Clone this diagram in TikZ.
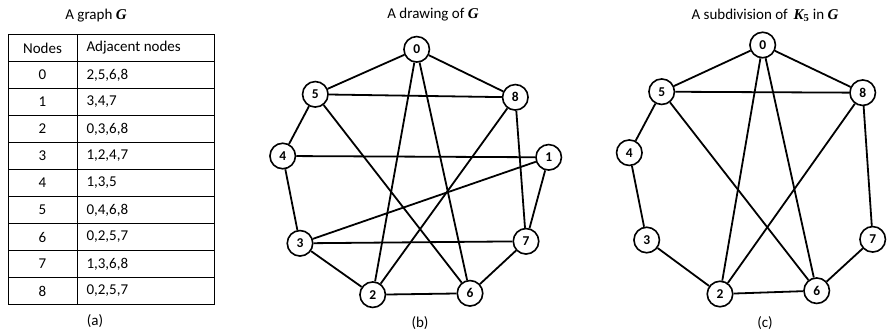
\documentclass[tikz,border=0pt]{standalone}
\usepackage{fontspec}
\setmainfont{Carlito}
\newfontfamily\mathserif{Liberation Serif}
\usetikzlibrary{positioning, calc}

\newcommand{\gvar}[1]{{\mathserif\bfseries\itshape #1}}

\begin{document}
\begin{tikzpicture}[
    x=1pt, y=-1pt,
    vertex/.style={circle, draw, line width=1.6pt, fill=white, inner sep=0pt, minimum size=25.5pt, font=\bfseries\fontsize{13.5}{13.5}\selectfont},
    edge/.style={draw, line width=1.8pt},
    caption/.style={font=\fontsize{15}{17}\selectfont},
    cell/.style={font=\fontsize{15}{17}\selectfont}
]
    \useasboundingbox (0,0) rectangle (889,335);

    % (a) the table
    \node [caption] (ta) at (96,16) {A graph \gvar{G}};
    \draw [line width=1pt] (8,34.5) rectangle (214,304.5);
    \draw [line width=1pt] (77,34.5) -- (77,304.5);
    \foreach \i in {1,...,9}
        \draw [line width=1pt] (8,34.5+27*\i) -- (214,34.5+27*\i);
    \node [cell] at (42.5,48) {Nodes};
    \node [cell, anchor=west] at (83,48) {Adjacent nodes};
    \foreach \n/\adj [count=\i from 0] in {0/{2,5,6,8}, 1/{3,4,7}, 2/{0,3,6,8}, 3/{1,2,4,7}, 4/{1,3,5},
                                           5/{0,4,6,8}, 6/{0,2,5,7}, 7/{1,3,6,8}, 8/{0,2,5,7}} {
        \node [cell] at (42.5,75+27*\i) {\n};
        \node [cell, anchor=west] at (83,75+27*\i) {\adj};
    }
    \node [caption] (la) at (95,321) {(a)};

    % (b) a drawing of G
    \node [caption] (tb) at (433,15) {A drawing of \gvar{G}};
    \node [vertex] (b0) at (416.7,49.3) {0};
    \node [vertex] (b5) at (315.3,94.3) {5};
    \node [vertex] (b8) at (515.3,97.3) {8};
    \node [vertex] (b4) at (282.7,156) {4};
    \node [vertex] (b1) at (548.7,157.3) {1};
    \node [vertex] (b3) at (300,243.3) {3};
    \node [vertex] (b7) at (526,241.3) {7};
    \node [vertex] (b2) at (372.7,294.7) {2};
    \node [vertex] (b6) at (470,293.3) {6};
    \foreach \u/\v in {0/5, 0/8, 0/2, 0/6, 5/8, 5/4, 5/6, 8/2, 8/7, 4/1, 4/3, 1/3, 1/7, 3/7, 3/2, 2/6, 7/6}
        \draw [edge] (b\u) -- (b\v);
    \node [caption] (lb) at (420,323) {(b)};

    % (c) a subdivision of K5 in G
    \node [caption] (tc) at (765,15) {A subdivision of \,\gvar{K}\textsubscript{\mathserif\bfseries 5} in \gvar{G}};
    \node [vertex] (c0) at (762.7,45) {0};
    \node [vertex] (c5) at (661.7,91.7) {5};
    \node [vertex] (c8) at (862.7,92.7) {8};
    \node [vertex] (c4) at (629.3,152.7) {4};
    \node [vertex] (c3) at (646.7,240) {3};
    \node [vertex] (c7) at (872.7,239.3) {7};
    \node [vertex] (c2) at (720,294) {2};
    \node [vertex] (c6) at (816.7,290.7) {6};
    \foreach \u/\v in {0/5, 0/8, 0/2, 0/6, 5/8, 5/4, 5/6, 8/2, 8/7, 4/3, 3/2, 2/6, 7/6}
        \draw [edge] (c\u) -- (c\v);
    \node [caption] (lc) at (765,323) {(c)};

\end{tikzpicture}
\end{document}
